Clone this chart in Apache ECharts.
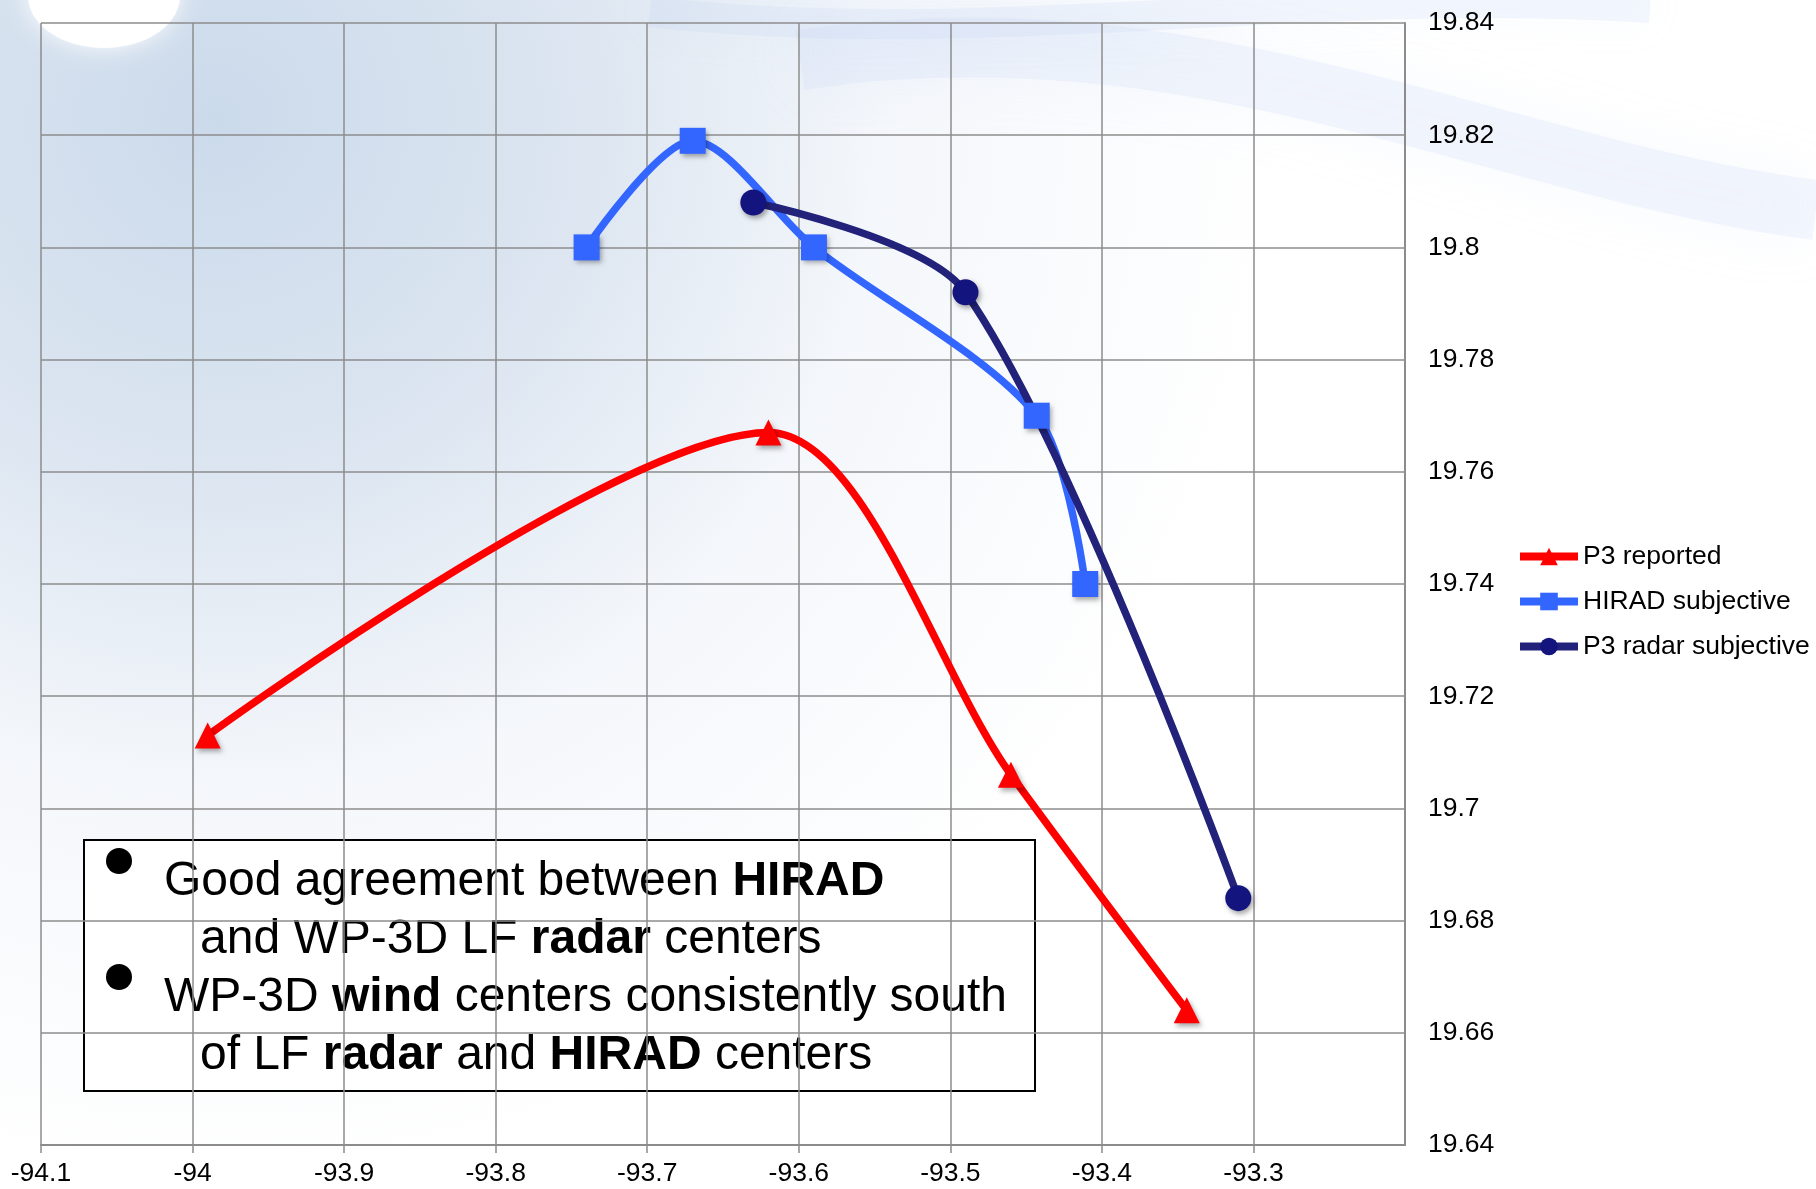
<!DOCTYPE html>
<html>
<head>
<meta charset="utf-8">
<script src="https://cdn.jsdelivr.net/npm/echarts@6/dist/echarts.min.js"></script>
<style>
  html, body { margin: 0; padding: 0; background: #fff; }
  #chart { width: 1816px; height: 1189px; }
</style>
</head>
<body>
<div id="chart"></div>
<script>
// storm centre positions (lon, lat)
const p3ReportedLon = [-93.99, -93.62, -93.46, -93.344];
const p3ReportedLat = [19.713, 19.767, 19.706, 19.664];
const hiradLon = [-93.74, -93.67, -93.59, -93.443, -93.411];
const hiradLat = [19.80, 19.819, 19.80, 19.77, 19.74];
const radarLon = [-93.63, -93.49, -93.31];
const radarLat = [19.808, 19.792, 19.684];

const xTicks = [-94.1, -94, -93.9, -93.8, -93.7, -93.6, -93.5, -93.4, -93.3];
const seriesNames = ['P3 reported', 'HIRAD subjective', 'P3 radar subjective'];

const FONT = 'Liberation Sans, Arial, sans-serif';
const GRID_GRAY = '#8c8c8c';
const SMOOTH = 0.3;

function pairs(xs, ys) {
    return xs.map((x, i) => [x, ys[i]]);
}

const markerShadow = {
    shadowBlur: 5,
    shadowColor: 'rgba(0,0,0,0.35)',
    shadowOffsetX: 2,
    shadowOffsetY: 3
};

const richText = {
    r: { fontFamily: FONT, fontSize: 48, fill: '#000' },
    b: { fontFamily: FONT, fontSize: 48, fontWeight: 'bold', fill: '#000' }
};

function noteLine(x, y, text) {
    return { type: 'text', x: x, y: y, style: { text: text, verticalAlign: 'middle', rich: richText } };
}

const chart = echarts.init(document.getElementById('chart'));

chart.setOption({
    backgroundColor: '#ffffff',
    animation: false,
    grid: { left: 41, right: 411, top: 23, bottom: 44 },
    legend: {
        orient: 'vertical',
        left: 1516,
        top: 543,
        padding: 0,
        itemWidth: 58,
        itemHeight: 22,
        itemGap: 18,
        textStyle: { fontFamily: FONT, fontSize: 26.5, color: '#000' },
        lineStyle: { width: 8 },
        data: seriesNames
    },
    graphic: [
        // slide background: pale blue wash, swooshes and the sun
        {
            type: 'rect', z: -10, silent: true,
            shape: { x: 0, y: 0, width: 1816, height: 1189 },
            style: {
                fill: new echarts.graphic.RadialGradient(0.12, 0.1, 0.9, [
                    { offset: 0, color: '#cbdaeb' },
                    { offset: 0.35, color: '#dde6f1' },
                    { offset: 0.62, color: '#f4f7fb' },
                    { offset: 1, color: '#ffffff' }
                ])
            }
        },
        {
            type: 'bezierCurve', z: -9, silent: true,
            shape: { x1: 800, y1: 60, x2: 1816, y2: 210, cpx1: 1200, cpy1: 0, cpx2: 1500, cpy2: 170 },
            style: { stroke: 'rgba(195,212,245,0.18)', lineWidth: 60, fill: null, shadowBlur: 60, shadowColor: 'rgba(195,212,245,0.6)' }
        },
        {
            type: 'bezierCurve', z: -9, silent: true,
            shape: { x1: 650, y1: 12, x2: 1650, y2: 8, cpx1: 1000, cpy1: 50, cpx2: 1300, cpy2: -15 },
            style: { stroke: 'rgba(185,208,245,0.16)', lineWidth: 30, fill: null, shadowBlur: 40, shadowColor: 'rgba(185,208,245,0.5)' }
        },
        {
            type: 'ellipse', z: -8, silent: true,
            shape: { cx: 104, cy: -4, rx: 76, ry: 52 },
            style: { fill: '#ffffff', shadowBlur: 24, shadowColor: 'rgba(255,255,255,0.9)' }
        },
        // annotation box
        {
            type: 'group', z: 50,
            children: [
                {
                    type: 'rect',
                    shape: { x: 84, y: 840, width: 951, height: 251 },
                    style: { fill: '#ffffff', stroke: '#000000', lineWidth: 2 }
                },
                { type: 'circle', shape: { cx: 119, cy: 861, r: 13 }, style: { fill: '#000' } },
                { type: 'circle', shape: { cx: 119, cy: 977, r: 13 }, style: { fill: '#000' } },
                noteLine(164, 882, '{r|Good agreement between }{b|HIRAD}'),
                noteLine(200, 940, '{r|and WP-3D LF }{b|radar}{r| centers}'),
                noteLine(164, 998, '{r|WP-3D }{b|wind}{r| centers consistently south}'),
                noteLine(200, 1056, '{r|of LF }{b|radar}{r| and }{b|HIRAD}{r| centers}')
            ]
        }
    ],
    xAxis: {
        type: 'value',
        min: -94.1,
        max: -93.2,
        interval: 0.1,
        axisLine: { show: true, lineStyle: { color: GRID_GRAY, width: 2 } },
        axisTick: { show: true, length: 8, lineStyle: { color: GRID_GRAY, width: 1.5 }, customValues: xTicks },
        axisLabel: {
            customValues: xTicks,
            margin: 15,
            fontFamily: FONT,
            fontSize: 26.5,
            color: '#000',
            formatter: v => String(Math.round(v * 10) / 10)
        },
        splitLine: { show: true, lineStyle: { color: GRID_GRAY, width: 1.5 } }
    },
    yAxis: {
        type: 'value',
        position: 'right',
        min: 19.64,
        max: 19.84,
        interval: 0.02,
        axisLine: { show: true, lineStyle: { color: GRID_GRAY, width: 2 } },
        axisTick: { show: false },
        axisLabel: {
            margin: 23,
            fontFamily: FONT,
            fontSize: 26.5,
            color: '#000',
            formatter: v => String(parseFloat(v.toFixed(2)))
        },
        splitLine: { show: true, lineStyle: { color: GRID_GRAY, width: 1.5 } }
    },
    series: [
        {
            name: seriesNames[0],
            type: 'line',
            smooth: SMOOTH,
            symbol: 'triangle',
            symbolSize: 26,
            color: '#ff0000',
            lineStyle: { width: 7.5, color: '#ff0000' },
            itemStyle: Object.assign({ color: '#ff0000' }, markerShadow),
            data: pairs(p3ReportedLon, p3ReportedLat)
        },
        {
            name: seriesNames[1],
            type: 'line',
            smooth: SMOOTH,
            symbol: 'rect',
            symbolSize: 26,
            color: '#3366ff',
            lineStyle: { width: 7.5, color: '#3366ff' },
            itemStyle: Object.assign({ color: '#3366ff' }, markerShadow),
            data: pairs(hiradLon, hiradLat)
        },
        {
            name: seriesNames[2],
            type: 'line',
            smooth: SMOOTH,
            symbol: 'circle',
            symbolSize: 26,
            color: '#1c1c7e',
            lineStyle: { width: 7.5, color: '#22227a' },
            itemStyle: Object.assign({ color: '#14147e' }, markerShadow),
            data: pairs(radarLon, radarLat)
        }
    ]
});
</script>
</body>
</html>
